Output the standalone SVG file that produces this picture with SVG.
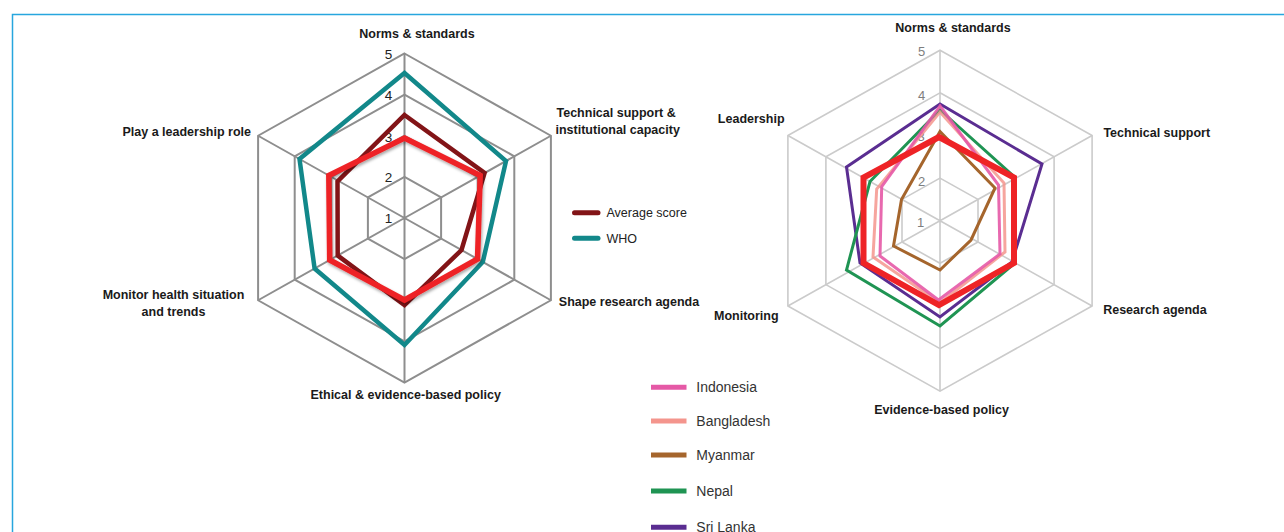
<svg xmlns="http://www.w3.org/2000/svg" width="1284" height="532" viewBox="0 0 1284 532">
<defs>
<style>
.lbl{font-family:"Liberation Sans",Arial,sans-serif;font-weight:bold;font-size:12.5px;fill:#1a1a1a}
.tick{font-family:"Liberation Sans",Arial,sans-serif;font-size:13.5px;fill:#222}
.tickr{font-family:"Liberation Sans",Arial,sans-serif;font-size:13px;fill:#7e7e7e}
.leg{font-family:"Liberation Sans",Arial,sans-serif;font-size:12.5px;fill:#222}
.legr{font-family:"Liberation Sans",Arial,sans-serif;font-size:14px;fill:#333}
.gridL{fill:none;stroke:#8e8e8e;stroke-width:2}
.gridR{fill:none;stroke:#cbcbcb;stroke-width:1.6}
.ser{fill:none;stroke-linejoin:miter}
</style>
<filter id="shadow" x="-10%" y="-10%" width="130%" height="130%">
<feDropShadow dx="1" dy="2" stdDeviation="1.6" flood-color="#000" flood-opacity="0.35"/>
</filter>
</defs>
<rect width="1284" height="532" fill="#fff"/>
<path d="M12.5,532 V14.5 H1290" fill="none" stroke="#27a6de" stroke-width="1.5"/>

<g id="left-chart">
<g id="left-grid">
<polygon class="gridL" points="404.5,176.9 441.1,197.4 441.1,238.6 404.5,259.1 367.9,238.6 367.9,197.4"/>
<polygon class="gridL" points="404.5,135.75 477.7,176.9 477.7,259.1 404.5,300.25 331.3,259.1 331.3,176.9"/>
<polygon class="gridL" points="404.5,94.6 514.3,156.3 514.3,279.7 404.5,341.4 294.7,279.7 294.7,156.3"/>
<polygon class="gridL" points="404.5,53.5 550.9,135.75 550.9,300.25 404.5,382.5 258.1,300.25 258.1,135.75"/>
<path class="gridL" d="M404.5,218 V53.5 M404.5,218 L550.9,135.75 M404.5,218 L550.9,300.25 M404.5,218 V382.5 M404.5,218 L258.1,300.25 M404.5,218 L258.1,135.75"/>
</g>
<g id="left-ticks">
<text class="tick" x="388.5" y="59" text-anchor="middle">5</text>
<text class="tick" x="388.5" y="100" text-anchor="middle">4</text>
<text class="tick" x="388.5" y="141.5" text-anchor="middle">3</text>
<text class="tick" x="388.5" y="182" text-anchor="middle">2</text>
<text class="tick" x="388.5" y="222.5" text-anchor="middle">1</text>
</g>
<g id="left-series">
<polygon id="who" class="ser" stroke="#12888a" stroke-width="4.5" points="404.5,73 506,161 482.8,262 404.5,345 314.6,268.5 299.5,159"/>
<polygon id="average" class="ser" stroke="#821417" stroke-width="4.5" points="404.5,115 484.6,173 461.5,250 404.5,305 337.7,255.5 337.5,181.5"/>
<polygon id="red-left" class="ser" stroke="#ee2326" stroke-width="5.5" filter="url(#shadow)" points="404.5,138 480.2,175.5 477.5,259 404.5,300 329.7,260 328.8,175.5"/>
</g>
<g id="left-labels">
<text class="lbl" x="417" y="37.5" text-anchor="middle">Norms &amp; standards</text>
<text class="lbl" x="556.5" y="117">Technical support &amp;</text>
<text class="lbl" x="555.5" y="133.6">institutional capacity</text>
<text class="lbl" x="558.8" y="306">Shape research agenda</text>
<text class="lbl" x="405.7" y="398.6" text-anchor="middle">Ethical &amp; evidence-based policy</text>
<text class="lbl" x="173.5" y="299.3" text-anchor="middle">Monitor health situation</text>
<text class="lbl" x="173.5" y="316" text-anchor="middle">and trends</text>
<text class="lbl" x="251" y="136" text-anchor="end">Play a leadership role</text>
</g>
<g id="left-legend">
<line x1="574.5" y1="212.7" x2="598" y2="212.7" stroke="#821417" stroke-width="5" stroke-linecap="round"/>
<text class="leg" x="606.5" y="216.5">Average score</text>
<line x1="574.5" y1="238.3" x2="598" y2="238.3" stroke="#12888a" stroke-width="5" stroke-linecap="round"/>
<text class="leg" x="606.5" y="242.5">WHO</text>
</g>
</g>

<g id="right-chart">
<g id="right-grid">
<polygon class="gridR" points="940,178.1 978,199.4 978,242 940,263.3 902,242 902,199.4"/>
<polygon class="gridR" points="940,135.45 1016,178.1 1016,263.3 940,305.95 864,263.3 864,178.1"/>
<polygon class="gridR" points="940,92.8 1054.1,156.75 1054.1,284.65 940,348.6 825.9,284.65 825.9,156.75"/>
<polygon class="gridR" points="940,50.2 1092.1,135.45 1092.1,305.95 940,391.2 787.9,305.95 787.9,135.45"/>
<path class="gridR" d="M940,220.7 V50.2 M940,220.7 L1092.1,135.45 M940,220.7 L1092.1,305.95 M940,220.7 V391.2 M940,220.7 L787.9,305.95 M940,220.7 L787.9,135.45"/>
</g>
<g id="right-ticks">
<text class="tickr" x="921.5" y="56" text-anchor="middle">5</text>
<text class="tickr" x="921.5" y="99.5" text-anchor="middle">4</text>
<text class="tickr" x="921" y="141" text-anchor="middle">3</text>
<text class="tickr" x="921.5" y="186" text-anchor="middle">2</text>
<text class="tickr" x="920.5" y="227" text-anchor="middle">1</text>
</g>
<g id="right-series">
<polygon id="sri-lanka" class="ser" stroke="#5a2d91" stroke-width="3" points="940,104 1042,164 1012,262 940,317 860,263 846.5,167"/>
<polygon id="nepal" class="ser" stroke="#1f9453" stroke-width="3" points="940,110 1015,177.5 1015,263 940,326 846.5,270 870,181.5"/>
<polygon id="bangladesh" class="ser" stroke="#f4958d" stroke-width="3" stroke-opacity="0.85" points="940,112 1004,183 1005,252 940,303 873,257 876.7,189"/>
<polygon id="indonesia" class="ser" stroke="#e559a6" stroke-width="3" stroke-opacity="0.9" points="940,106 998.5,185 1000,254 938.5,300 880,256 881.7,186.7"/>
<polygon id="myanmar" class="ser" stroke="#a5652c" stroke-width="3" points="940,131.5 995,188 971,240 940,270 893.5,246 901.5,199.5"/>
<polygon id="red-right" class="ser" stroke="#ee2326" stroke-width="6" points="939,137 1014,177.5 1014,263 939,305 863.5,263 863.5,177.5"/>
</g>
<g id="right-labels">
<text class="lbl" x="953" y="31.5" text-anchor="middle">Norms &amp; standards</text>
<text class="lbl" x="1103.4" y="137">Technical support</text>
<text class="lbl" x="1103.2" y="313.7">Research agenda</text>
<text class="lbl" x="941.6" y="413.6" text-anchor="middle">Evidence-based policy</text>
<text class="lbl" x="746.3" y="320.3" text-anchor="middle">Monitoring</text>
<text class="lbl" x="751.2" y="122.7" text-anchor="middle">Leadership</text>
</g>
<g id="right-legend">
<line x1="651" y1="387.3" x2="686.5" y2="387.3" stroke="#e559a6" stroke-width="5"/>
<text class="legr" x="696.3" y="392.3">Indonesia</text>
<line x1="651" y1="421" x2="686.5" y2="421" stroke="#f4958d" stroke-width="5"/>
<text class="legr" x="696.3" y="426">Bangladesh</text>
<line x1="651" y1="455" x2="686.5" y2="455" stroke="#a5652c" stroke-width="5"/>
<text class="legr" x="696.3" y="460">Myanmar</text>
<line x1="651" y1="491" x2="686.5" y2="491" stroke="#1f9453" stroke-width="5"/>
<text class="legr" x="696.3" y="496">Nepal</text>
<line x1="651" y1="527.3" x2="686.5" y2="527.3" stroke="#5a2d91" stroke-width="5"/>
<text class="legr" x="696.3" y="531.5">Sri Lanka</text>
</g>
</g>
</svg>
